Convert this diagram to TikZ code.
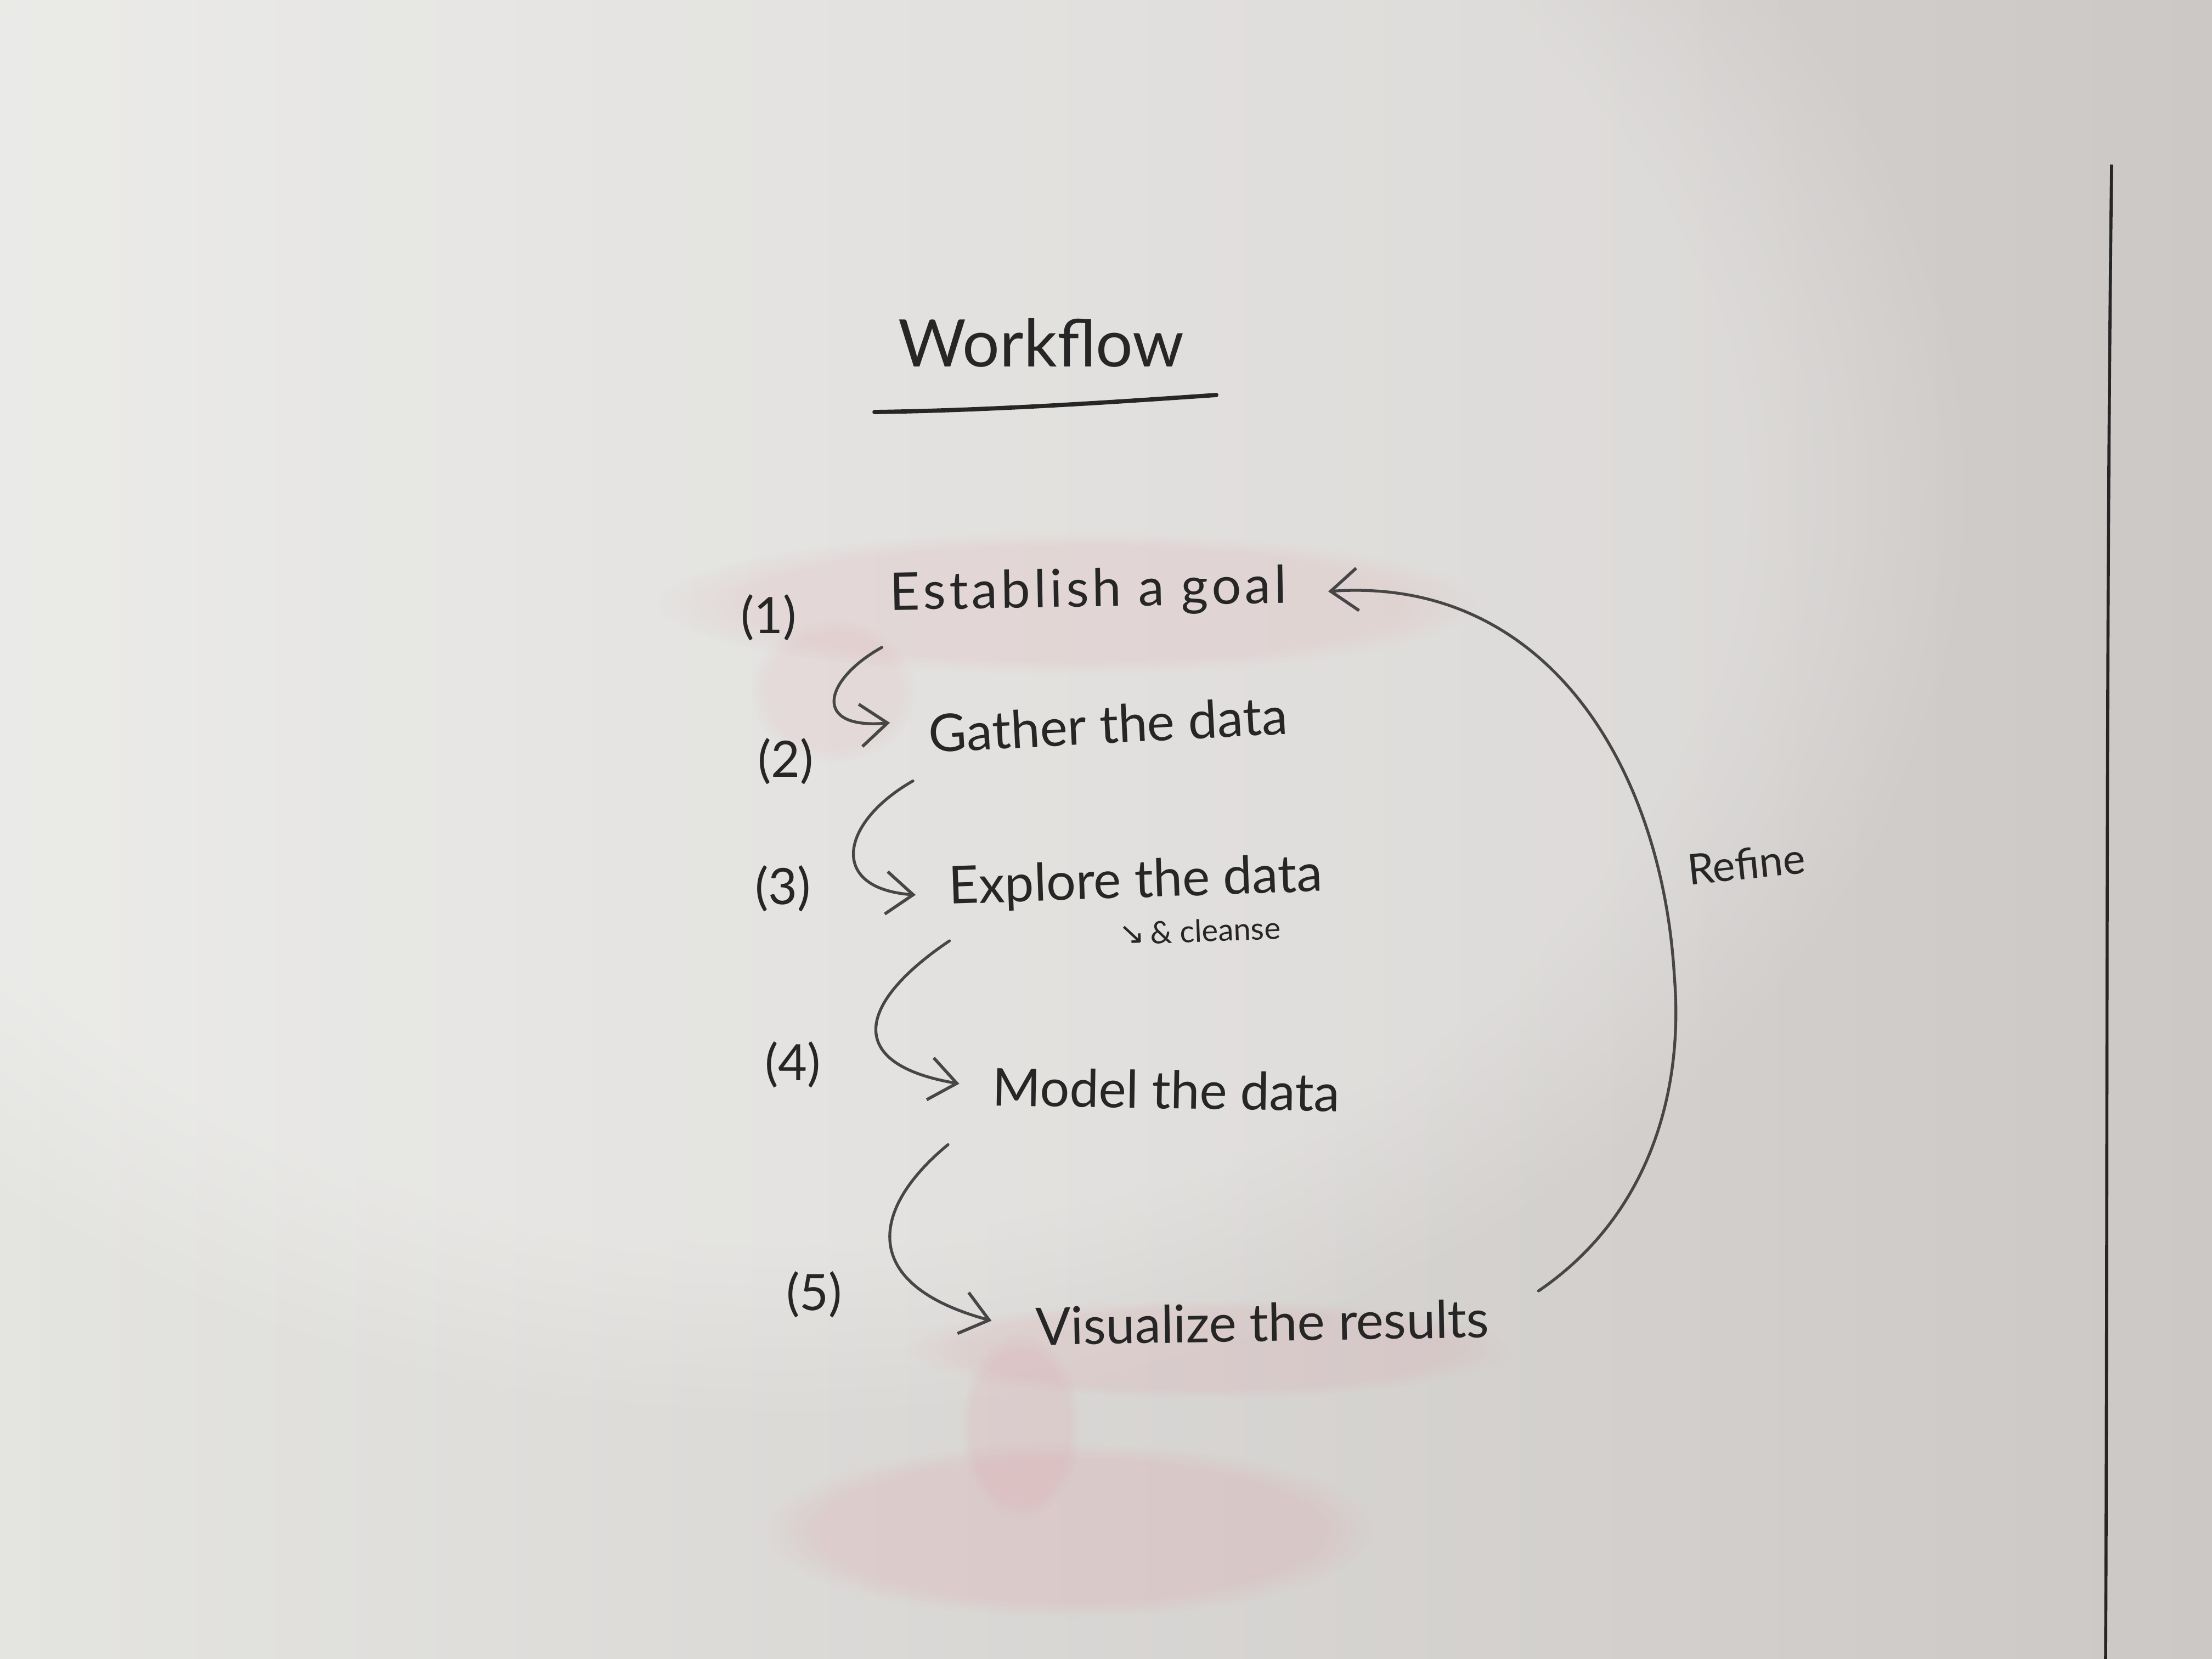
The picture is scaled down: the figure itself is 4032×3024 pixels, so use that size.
\documentclass[tikz,border=0pt]{standalone}
\usepackage{fontspec}
\setmainfont{Lato}
\newfontfamily\symfont{DejaVu Sans}
\usetikzlibrary{arrows.meta,fadings}
\definecolor{wbA}{RGB}{228,228,225}
\definecolor{wbC}{RGB}{204,200,198}
\definecolor{ink}{RGB}{38,38,38}
\definecolor{pen}{RGB}{70,70,70}
\definecolor{smudge}{RGB}{226,140,150}
\tikzset{
  step label/.style={text=ink, font=\fontsize{27}{30}\selectfont, inner sep=0pt},
  num label/.style={text=ink, font=\fontsize{26}{28}\selectfont, inner sep=0pt},
  flow/.style={draw=pen, line width=1.5pt, line cap=round, -{Straight Barb[length=14pt,width=22pt,line width=1.6pt]}},
  soft/.style={path fading=circle with fuzzy edge 20 percent},
}
\begin{document}
\begin{tikzpicture}[x=0.01cm,y=-0.01cm]
% whiteboard
\useasboundingbox (0,0) rectangle (4032,3024);
\shade[left color=wbA, right color=wbC] (0,0) rectangle (4032,3024);
\fill[white, opacity=0.25, soft] (1400,900) ellipse (2200 and 1700);
% smudges
\fill[smudge, opacity=0.17, soft] (1950,2790) ellipse (560 and 160);
\fill[smudge, opacity=0.14, soft] (1860,2600) ellipse (110 and 170);
\fill[smudge, opacity=0.12, soft] (1950,1100) ellipse (750 and 130);
\fill[smudge, opacity=0.10, soft] (1520,1260) ellipse (150 and 130);
\fill[smudge, opacity=0.13, soft] (2200,2460) ellipse (550 and 90);
% right border line
\draw[ink, line width=1.6pt] (3849,300) .. controls (3838,1200) and (3842,2200) .. (3838,3024);
% title
\node[text=ink, font=\fontsize{34}{36}\selectfont, inner sep=0pt] (title) at (1898,625) {Workflow};
\coordinate (ulL) at (1594,751);
\coordinate (ulR) at (2217,720);
\draw[ink, line width=2.2pt, line cap=round] (ulL) .. controls (1800,748) and (2000,735) .. (ulR);
% steps
\node[step label, anchor=base west, rotate=1] (s1) at (1622,1112) {\addfontfeature{LetterSpace=7}Establish a goal};
\node[step label, anchor=base west, rotate=3] (s2) at (1694,1372) {Gather the data};
\node[step label, anchor=base west, rotate=2] (s3) at (1730,1648) {Explore the data};
\node[step label, anchor=base west, rotate=-1] (s4) at (1808,2015) {Model the data};
\node[step label, anchor=base west, rotate=1] (s5) at (1888,2452) {Visualize the results};
\node[text=ink, font=\fontsize{16}{18}\selectfont, inner sep=0pt, anchor=base west, rotate=2] (cl) at (2040,1722) {{\symfont ↘}\,\& cleanse};
% numbers
\node[num label] (n1) at (1401,1126) {(1)};
\node[num label] (n2) at (1432,1388) {(2)};
\node[num label] (n3) at (1427,1620) {(3)};
\node[num label] (n4) at (1445,1941) {(4)};
\node[num label] (n5) at (1484,2360) {(5)};
% refine
\node[text=ink, font=\fontsize{22}{24}\selectfont, inner sep=0pt, rotate=6] (ref) at (3183,1574) {Refine};
% step arrows
\draw[flow] ([shift={(-15,50)}]s1.south west) .. controls (1500,1240) and (1480,1330) .. ([shift={(-70,-20)}]s2.west);
\draw[flow] ([shift={(-30,50)}]s2.south west) .. controls (1530,1500) and (1510,1620) .. ([shift={(-60,10)}]s3.west);
\draw[flow] ([shift={(0,50)}]s3.south west) .. controls (1560,1830) and (1540,1940) .. ([shift={(-60,-5)}]s4.west);
\draw[flow] ([shift={(-80,70)}]s4.south west) .. controls (1590,2200) and (1560,2340) .. ([shift={(-80,-10)}]s5.west);
% refine loop
\draw[flow] ([shift={(90,-50)}]s5.east) .. controls (3000,2220) and (3070,2000) .. (3052,1780)
  .. controls (3030,1400) and (2820,1050) .. ([shift={(75,5)}]s1.east);
\end{tikzpicture}
\end{document}
